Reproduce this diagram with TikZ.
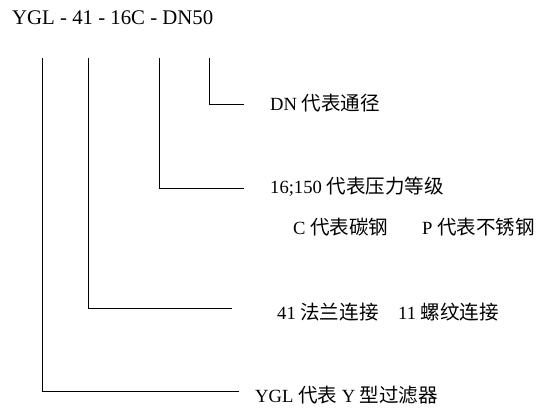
\documentclass[tikz,border=0pt]{standalone}
\usepackage{fontspec}
\setmainfont{Liberation Serif}
\newfontfamily\cjk[Scale=1.05]{Noto Sans CJK SC}
\usetikzlibrary{positioning}

\begin{document}
\begin{tikzpicture}[x=1pt, y=-1pt]
    \tikzset{lbl/.style={anchor=west, inner sep=0pt, font=\fontsize{18.6}{22}\selectfont}, lead/.style={line width=0.8pt}}
    \useasboundingbox (0,0) rectangle (550,419);
    \node[lbl, font=\fontsize{20.8}{24}\selectfont] (code) at (12,18) {YGL - 41 - 16C - DN50};
    % tops of the leads, just under the code
    \coordinate (T1) at (42,58);  \coordinate (E1) at (239,391);
    \coordinate (T2) at (88,58);  \coordinate (E2) at (232,308);
    \coordinate (T3) at (159,58); \coordinate (E3) at (244,188);
    \coordinate (T4) at (209,58); \coordinate (E4) at (244,104);
    \node[lbl] (dn) at (270,103) {DN {\cjk 代表通径}};
    \node[lbl] (pn) at (270,187) {16;150 {\cjk 代表压力等级}};
    \node[lbl] (cs) at (293,227) {C {\cjk 代表碳钢}};
    \node[lbl] (ss) at (422,227) {P {\cjk 代表不锈钢}};
    \node[lbl] (fl) at (277,312) {41 {\cjk 法兰连接}};
    \node[lbl] (th) at (398,312) {11 {\cjk 螺纹连接}};
    \node[lbl] (yg) at (255,395) {YGL {\cjk 代表} Y {\cjk 型过滤器}};
    \draw[lead] (T1) |- (E1);
    \draw[lead] (T2) |- (E2);
    \draw[lead] (T3) |- (E3);
    \draw[lead] (T4) |- (E4);
\end{tikzpicture}
\end{document}
